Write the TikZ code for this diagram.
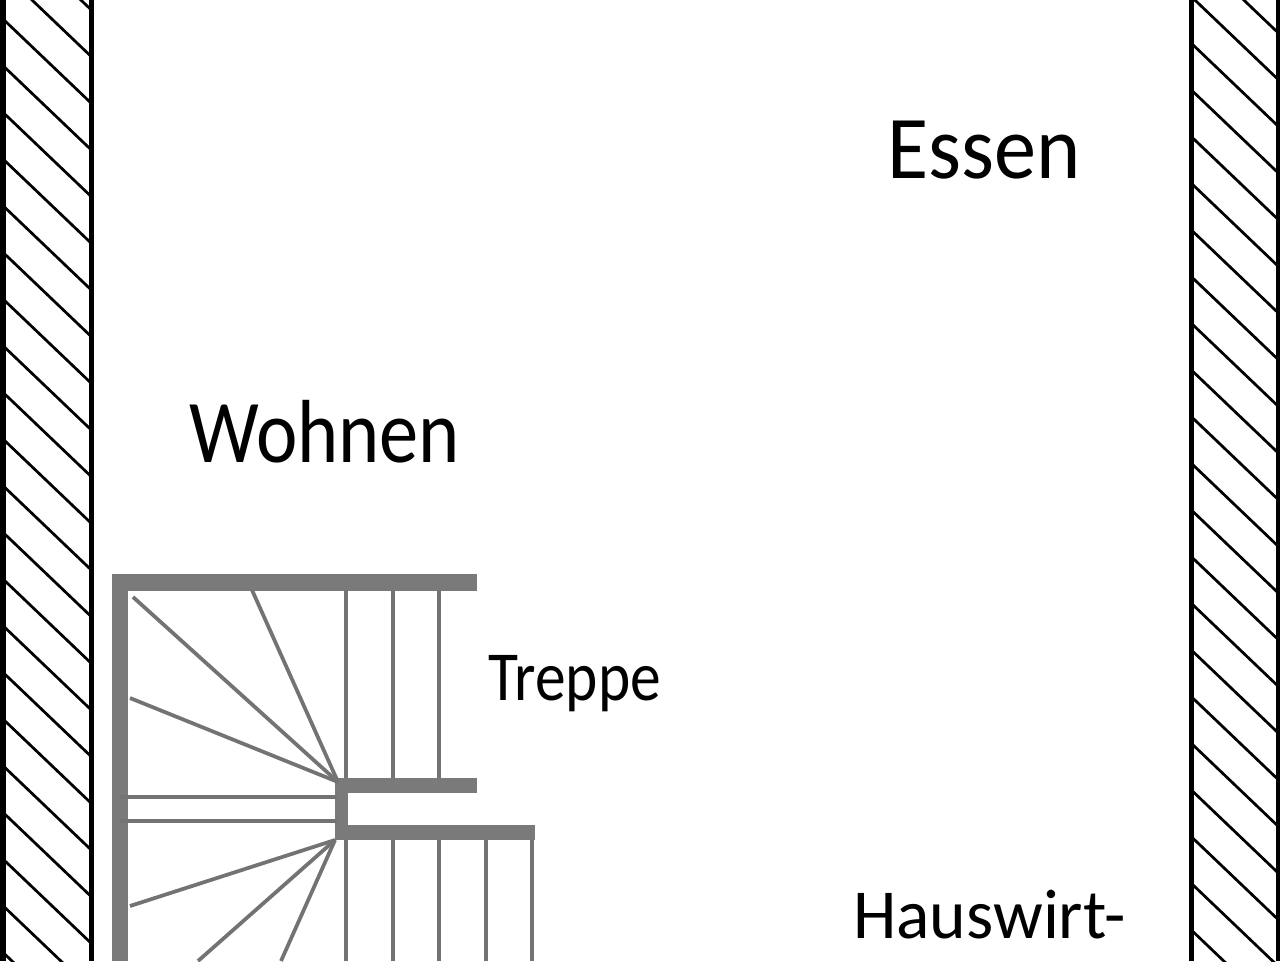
\documentclass[tikz,border=0pt]{standalone}
\usepackage{fontspec}
\setmainfont{Carlito}
\tikzset{
  wallline/.style={line width=0.11cm,color=black},
  hatchline/.style={line width=0.055cm,color=black},
  stairbar/.style={fill=black!52,draw=none},
  treadline/.style={line width=0.075cm,color=black!55},
  biglabel/.style={anchor=base west,transform shape,font=\fontsize{51}{51}\selectfont},
  smalllabel/.style={anchor=base west,transform shape,font=\fontsize{40}{40}\selectfont}
}
\begin{document}
\begin{tikzpicture}[x=0.02cm,y=-0.02cm]
    \clip (0,0) rectangle (1280,961);
    \fill[white] (0,0) rectangle (1280,961);
    % walls
    \draw[wallline] (3,0) -- (3,961);
    \draw[wallline,line width=0.1cm] (91,0) -- (91,961);
    \draw[wallline,line width=0.1cm] (1191,0) -- (1191,961);
    \draw[wallline] (1279,0) -- (1279,961);
    \foreach \k in {-2,...,20} {
        \draw[hatchline] (3,19+46.67*\k) -- (91,19+46.67*\k+84);
        \draw[hatchline] (1191,43+46.67*\k) -- (1279,43+46.67*\k+84);
    }
    % stairs
    \fill[stairbar] (112,574) rectangle (477,591);
    \fill[stairbar] (112,574) rectangle (128,961);
    \fill[stairbar] (336,778) rectangle (477,793);
    \fill[stairbar] (336,825) rectangle (535,840);
    \fill[stairbar] (335,778) rectangle (348,840);
    \foreach \x in {346,393,439} {
        \draw[treadline] (\x,590) -- (\x,778);
    }
    \foreach \x in {346,393,439,486,532} {
        \draw[treadline] (\x,840) -- (\x,961);
    }
    \draw[treadline] (120,797) -- (337,797);
    \draw[treadline] (120,821) -- (337,821);
    \draw[treadline] (338,782) -- (252,590);
    \draw[treadline] (338,782) -- (133,597);
    \draw[treadline] (338,782) -- (130,698);
    \draw[treadline] (335,840) -- (130,906);
    \draw[treadline] (335,840) -- (198,961);
    \draw[treadline] (335,840) -- (281,961);
    % rooms
    \node[biglabel,xscale=.94] (essen) at (882,178) {Essen};
    \node[biglabel,xscale=.875] (wohnen) at (184,462) {Wohnen};
    \node[smalllabel,xscale=.875] (treppe) at (483,700) {Treppe};
    \node[smalllabel,xscale=.99] (hauswirt) at (847,938) {Hauswirt-};
\end{tikzpicture}
\end{document}
